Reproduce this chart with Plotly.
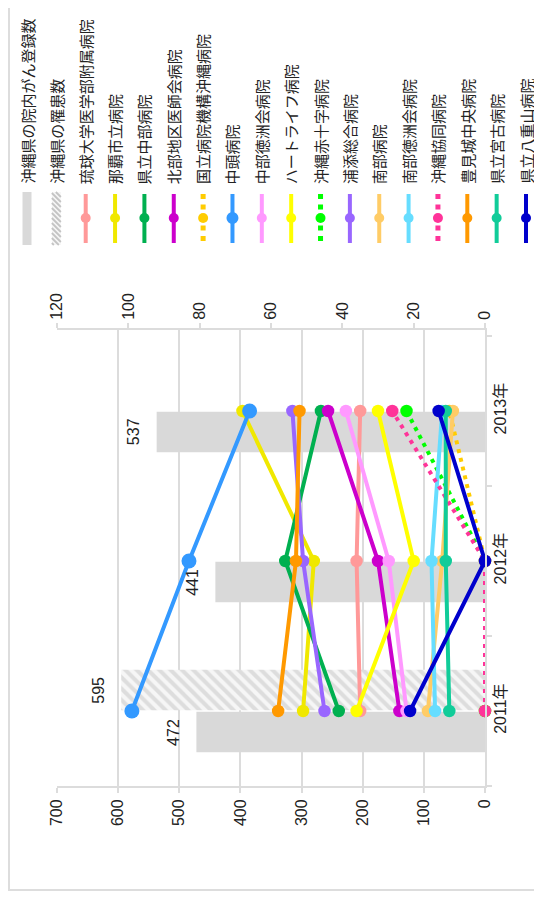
import plotly.graph_objects as go

# ---------------- data ----------------
categories = ['2011年', '2012年', '2013年']
registry = [472, 441, 537]          # 沖縄県の院内がん登録数
incidence = [595, None, None]       # 沖縄県の罹患数

hospitals = [
    '琉球大学医学部附属病院', '那覇市立病院', '県立中部病院', '北部地区医師会病院',
    '国立病院機構沖縄病院', '中頭病院', '中部徳洲会病院', 'ハートライフ病院',
    '沖縄赤十字病院', '浦添総合病院', '南部病院', '南部徳洲会病院',
    '沖縄協同病院', '豊見城中央病院', '県立宮古病院', '県立八重山病院',
]
ryukyu = [35, 36, 35]
naha = [51, 48, 68]
chubu = [41, 56, 46]
hokubu = [24, 30, 44]
kokuritsu = [0, 0, 10]
nakagami = [99, 83, 66]
chubu_toku = [22, 27, 39]
heartlife = [36, 20, 30]
sekijuji = [0, 0, 22]
urasoe = [45, 51, 54]
nanbu = [16, 12, 9]
nanbu_toku = [14, 15, 12]
kyodo = [0, 0, 26]
tomigusuku = [58, 53, 52]
miyako = [10, 11, 11]
yaeyama = [21, 0, 13]
series_values = [ryukyu, naha, chubu, hokubu, kokuritsu, nakagami, chubu_toku,
                 heartlife, sekijuji, urasoe, nanbu, nanbu_toku, kyodo,
                 tomigusuku, miyako, yaeyama]

colors = ['#ff9999', '#f0e800', '#00b050', '#cc00cc', '#ffcc00', '#3399ff',
          '#ff99ff', '#ffff00', '#00ff00', '#9966ff', '#ffcc66', '#66ddff',
          '#ff3399', '#ff9900', '#11cc99', '#0000cc']
dotted = [False, False, False, False, True, False, False, False,
          True, False, False, False, True, False, False, False]

bar_names = ['沖縄県の院内がん登録数', '沖縄県の罹患数']

# ---------------- layout geometry (page pixels; page body has 8px margin) ----------------
OFF = 8
FW, FH = 542 - OFF, 897 - OFF
P_L, P_R, P_T, P_B = 57, 485, 330, 786   # plot area in page pixels
PW, PH = P_R - P_L, P_B - P_T

def px(x):
    return (x - P_L) / PW

def py(y):
    return (P_B - y) / PH

FONT = 'Arial, Liberation Sans, Noto Sans CJK JP, sans-serif'
TXT = '#222222'
GRID = '#dcdcdc'

fig = go.Figure()

fig.add_trace(go.Bar(
    x=registry, y=categories, orientation='h', name=bar_names[0],
    marker=dict(color='#d9d9d9', line=dict(width=0)),
    xaxis='x', yaxis='y', showlegend=False, hoverinfo='skip'))
fig.add_trace(go.Bar(
    x=incidence, y=categories, orientation='h', name=bar_names[1],
    marker=dict(color='#f4f4f4', line=dict(width=0),
                pattern=dict(shape='\\', fgcolor='#c4c4c4', bgcolor='#f6f6f6',
                             size=8, solidity=0.5)),
    xaxis='x', yaxis='y', showlegend=False, hoverinfo='skip'))

for name, vals, col, dot in zip(hospitals, series_values, colors, dotted):
    msize = 15 if name == '中頭病院' else 12.5
    fig.add_trace(go.Scatter(
        x=vals, y=categories, mode='lines+markers', name=name,
        line=dict(color=col, width=4, dash='4px,5px' if dot else 'solid'),
        marker=dict(color=col, size=msize),
        xaxis='x2', yaxis='y', showlegend=False, cliponaxis=False))

annotations = []
shapes = []

# bar value labels
for vals, shift in ((registry, -21), (incidence, 21)):
    for cat, v in zip(categories, vals):
        if v is None:
            continue
        annotations.append(dict(
            x=v, y=cat, xref='x', yref='y', text=str(v), showarrow=False,
            textangle=-90, xanchor='right', yanchor='middle', xshift=-13,
            yshift=shift, font=dict(family=FONT, size=16, color=TXT)))

# custom rotated legend
legend_names = bar_names + hospitals
n = len(legend_names)
x_first, x_last = 27, 526
step = (x_last - x_first) / (n - 1)
for i, name in enumerate(legend_names):
    cx = x_first + i * step
    annotations.append(dict(
        x=px(cx), y=py(186), xref='paper', yref='paper', text=name,
        showarrow=False, textangle=-90, xanchor='center', yanchor='bottom',
        font=dict(family='Noto Sans CJK JP, sans-serif', size=15, color=TXT)))
    if i == 0:
        shapes.append(dict(type='rect', xref='paper', yref='paper',
                           x0=px(cx - 4.5), x1=px(cx + 4.5), y0=py(245), y1=py(192),
                           fillcolor='#d9d9d9', line=dict(width=0)))
    elif i == 1:
        x0, x1, ytop, ybot = cx - 4.5, cx + 4.5, 192, 245
        shapes.append(dict(type='rect', xref='paper', yref='paper',
                           x0=px(x0), x1=px(x1), y0=py(ybot), y1=py(ytop),
                           fillcolor='#f6f6f6', line=dict(width=0)))
        segs = []
        yy = ytop - 9
        while yy < ybot:
            sx, sy = x0, yy
            ex, ey = x1, yy + 9
            if sy < ytop:
                sx, sy = x0 + (ytop - yy), ytop
            if ey > ybot:
                ex, ey = x0 + (ybot - yy), ybot
            segs.append(f'M{px(sx)},{py(sy)} L{px(ex)},{py(ey)}')
            yy += 5
        shapes.append(dict(type='path', xref='paper', yref='paper',
                           path=' '.join(segs), line=dict(color='#c4c4c4', width=1.8)))
    else:
        j = i - 2
        col = colors[j]
        shapes.append(dict(type='line', xref='paper', yref='paper',
                           x0=px(cx), x1=px(cx), y0=py(194), y1=py(243),
                           line=dict(color=col, width=5 if dotted[j] else 4,
                                     dash='5px,5.5px' if dotted[j] else 'solid')))
        ms = 12 if hospitals[j] == '中頭病院' else 10
        shapes.append(dict(type='circle', xref='paper', yref='paper',
                           x0=px(cx - ms / 2), x1=px(cx + ms / 2),
                           y0=py(218 + ms / 2), y1=py(218 - ms / 2),
                           fillcolor=col, line=dict(width=0)))

# outer frame
shapes.append(dict(type='rect', xref='paper', yref='paper', layer='below',
                   x0=px(OFF + 1), x1=px(539), y0=py(890), y1=py(-5),
                   line=dict(color='#dddddd', width=2), fillcolor='rgba(0,0,0,0)'))

fig.update_layout(
    width=FW, height=FH,
    margin=dict(l=P_L - OFF, r=FW - (P_R - OFF), t=P_T - OFF, b=FH - (P_B - OFF)),
    paper_bgcolor='white', plot_bgcolor='white',
    barmode='group', bargap=0.44, bargroupgap=0.04,
    showlegend=False,
    font=dict(family=FONT, size=16, color=TXT),
    xaxis=dict(range=[700, 0], dtick=100, tick0=0, showgrid=True, gridcolor=GRID,
               gridwidth=2, zeroline=False, showline=True, linecolor=GRID,
               linewidth=2, ticks='outside', ticklen=5, tickcolor=GRID,
               tickwidth=2, tickangle=-90, side='bottom', anchor='y',
               tickfont=dict(family=FONT, size=16, color=TXT)),
    xaxis2=dict(range=[120, 0], dtick=20, tick0=0, overlaying='x', side='top',
                anchor='y', showgrid=False, zeroline=False, showline=True,
                linecolor=GRID, linewidth=2, ticks='outside', ticklen=5,
                tickcolor=GRID, tickwidth=2, tickangle=-90,
                tickfont=dict(family=FONT, size=16, color=TXT)),
    yaxis=dict(type='category', categoryorder='array', categoryarray=categories,
               range=[-0.5, 2.54], side='right', showgrid=False, zeroline=False,
               showline=True, linecolor=GRID, linewidth=2, ticks='outside',
               tickson='boundaries', ticklen=5, tickcolor=GRID, tickwidth=2,
               tickangle=-90, tickfont=dict(family=FONT, size=16, color=TXT)),
    annotations=annotations,
    shapes=shapes,
)

fig.write_html('out.html')
